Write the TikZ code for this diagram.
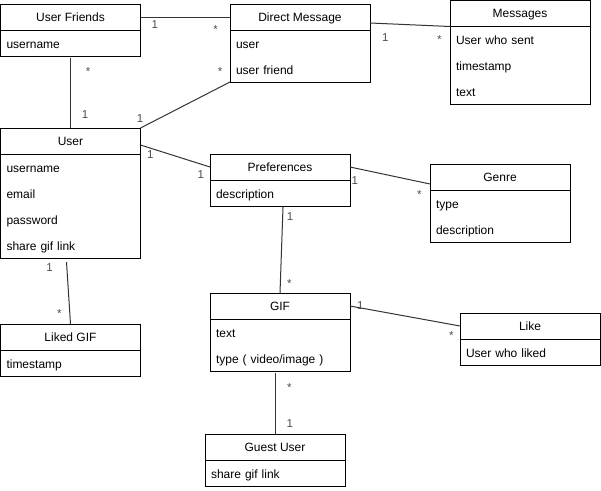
\documentclass[tikz,border=0pt]{standalone}
\usepackage{fontspec}
\setmainfont{Liberation Sans}
\usetikzlibrary{positioning}

\begin{document}
\begin{tikzpicture}
[x=1pt,y=-1pt,
classname/.style={draw,line width=1pt,outer sep=0pt,anchor=north west,minimum width=140pt,minimum height=26pt,inner sep=0pt,text height=8.6pt,text depth=0pt,font=\fontsize{12}{14}\selectfont},
classbody/.style={draw,line width=1pt,outer sep=0pt,below=0pt of #1,text width=128pt,inner xsep=6pt,inner ysep=0pt,align=left,font=\fontsize{12}{26}\selectfont},
assoc/.style={draw=black!80,line width=1pt},
mult/.style={anchor=north,inner sep=0pt,text=black!70,font=\fontsize{11.5}{13}\selectfont}]

\useasboundingbox (0,0) rectangle (601,490);

% classes
\node[classname] (uf) at (0.5,4) {User Friends};
\node[classbody=uf] (ufb) {\strut username};

\node[classname] (dm) at (230,4) {Direct Message};
\node[classbody=dm] (dmb) {\strut user\\\strut user friend};

\node[classname] (msg) at (450,0.5) {Messages};
\node[classbody=msg] (msgb) {\strut User who sent\\\strut timestamp\\\strut text};

\node[classname] (user) at (0.5,128) {User};
\node[classbody=user] (userb) {\strut username\\\strut email\\\strut password\\\strut share gif link};

\node[classname] (pref) at (210,154) {Preferences};
\node[classbody=pref] (prefb) {\strut description};

\node[classname] (genre) at (430,164) {Genre};
\node[classbody=genre] (genreb) {\strut type\\\strut description};

\node[classname] (gif) at (210,293) {GIF};
\node[classbody=gif] (gifb) {\strut text\\\strut type ( video/image )};

\node[classname] (like) at (460,313) {Like};
\node[classbody=like] (likeb) {\strut User who liked};

\node[classname] (lg) at (0.5,324) {Liked GIF};
\node[classbody=lg] (lgb) {\strut timestamp};

\node[classname] (guest) at (205,434) {Guest User};
\node[classbody=guest] (guestb) {\strut share gif link};

% associations
\draw[assoc] (uf.east) -- (dm.west);
\draw[assoc] ([yshift=-2pt]ufb.south) -- (user.north);
\draw[assoc] (user.north east) -- (dmb.south west);
\draw[assoc] ([yshift=-6pt]dm.east) -- (msg.south west);
\draw[assoc] ([yshift=-4pt]user.east) -- (pref.west);
\draw[assoc] (pref.east) -- ([yshift=-7pt]genre.west);
\draw[assoc] ([xshift=3pt,yshift=-1pt]prefb.south) -- (gif.north);
\draw[assoc] ([xshift=-4pt,yshift=-4pt]userb.south) -- (lg.north);
\draw[assoc] (gif.east) -- (like.west);
\draw[assoc] ([xshift=-5pt,yshift=-2pt]gifb.south) -- (guest.north);

% multiplicities
\node[mult] (ufdm-a) at (154.7,20.7) {1};
\node[mult] (ufdm-b) at (215.7,25) {*};
\node[mult] (ufuser-a) at (88,67.7) {*};
\node[mult] (ufuser-b) at (85,110) {1};
\node[mult] (userdm-a) at (140,114) {1};
\node[mult] (userdm-b) at (220,67.7) {*};
\node[mult] (dmmsg-a) at (385.3,33.3) {1};
\node[mult] (dmmsg-b) at (439.3,35.7) {*};
\node[mult] (userpref-a) at (150.3,150) {1};
\node[mult] (userpref-b) at (200.7,170) {1};
\node[mult] (prefgenre-a) at (354.7,176) {1};
\node[mult] (prefgenre-b) at (419.3,190.7) {*};
\node[mult] (prefgif-a) at (290,212.7) {1};
\node[mult] (prefgif-b) at (289.3,279.3) {*};
\node[mult] (userlg-a) at (49.5,263.5) {1};
\node[mult] (userlg-b) at (59.3,309.3) {*};
\node[mult] (giflike-a) at (360.3,301.7) {1};
\node[mult] (giflike-b) at (451.3,331.7) {*};
\node[mult] (gifguest-a) at (289.3,383.3) {*};
\node[mult] (gifguest-b) at (289.7,419.3) {1};
\end{tikzpicture}
\end{document}
